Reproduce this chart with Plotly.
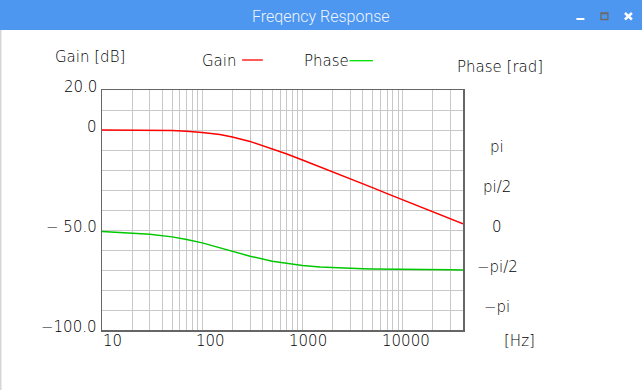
import math
import plotly.graph_objects as go

# ---------------- data ----------------
freq_hz = [10, 20, 30, 50, 70, 100, 150, 200, 300, 500, 700, 1000, 1500,
           2000, 3000, 4000, 5000, 7000, 10000, 15000, 20000, 30000, 40000]
gain_db = [0.0, -0.05, -0.1, -0.3, -0.6, -1.2, -2.3, -3.5, -5.7, -9.4, -12.0,
           -15.0, -18.4, -20.9, -24.4, -26.9, -28.8, -31.8, -34.9, -38.4,
           -40.9, -44.4, -46.9]
phase_rad = [-0.055, -0.11, -0.164, -0.27, -0.369, -0.505, -0.692, -0.835,
             -1.028, -1.224, -1.318, -1.392, -1.451, -1.481, -1.511, -1.526,
             -1.535, -1.545, -1.553, -1.559, -1.562, -1.565, -1.566]

gain_tick_vals = [20, 0, -50, -100]
gain_tick_text = ["20.0", "0", "\u2212 50.0", "\u2212100.0"]
phase_tick_vals = [math.pi, math.pi / 2, 0, -math.pi / 2, -math.pi]
phase_tick_text = ["pi", "pi/2", "0", "\u2212pi/2", "\u2212pi"]
freq_tick_vals = [10, 100, 1000, 10000]
freq_tick_text = ["10", "100", "1000", "10000"]

# ---------------- layout geometry ----------------
W, H = 642, 390
L, R, T, B = 102, 462.7, 90, 330


def px(x):
    return (x - L) / (R - L)


def py(y):
    return (B - y) / (B - T)


FONT = "DejaVu Sans"
FS = 15
GRID = "#c8c8c8"
FRAME = "#666666"

fig = go.Figure()
fig.add_trace(go.Scatter(x=freq_hz, y=gain_db, mode="lines",
                         line=dict(color="#ff0000", width=1.5),
                         showlegend=False, hoverinfo="skip"))
fig.add_trace(go.Scatter(x=freq_hz, y=phase_rad, mode="lines", yaxis="y2",
                         line=dict(color="#00c800", width=1.5),
                         showlegend=False, hoverinfo="skip"))

grid_x = [d * 10 ** e for e in range(1, 5) for d in range(1, 10)
          if d * 10 ** e <= 40000]

fig.update_layout(
    width=W, height=H, autosize=False,
    margin=dict(l=L, r=W - R, t=T, b=H - B, pad=0),
    paper_bgcolor="white", plot_bgcolor="white",
    xaxis=dict(type="log", range=[1, math.log10(40000)], tickvals=grid_x,
               showticklabels=False, ticks="", showgrid=True,
               gridcolor=GRID, gridwidth=1, zeroline=False,
               showline=True, mirror=True, linecolor=FRAME, linewidth=1.5),
    yaxis=dict(range=[-100, 20], tick0=0, dtick=10, showticklabels=False,
               ticks="", showgrid=True, gridcolor=GRID, gridwidth=1,
               zeroline=False, showline=True, mirror=True,
               linecolor=FRAME, linewidth=1.5),
    yaxis2=dict(overlaying="y", side="right",
                range=[-5 * math.pi / 4, 7 * math.pi / 4],
                showgrid=False, showticklabels=False, ticks="",
                zeroline=False, showline=False),
)

ann = []
tf = dict(family=FONT, size=FS, color="black", weight=200)

# gain tick labels
for v, t in zip(gain_tick_vals, gain_tick_text):
    ann.append(dict(xref="paper", yref="y", x=px(99), y=v, text=t,
                    xanchor="right", yanchor="middle", yshift=3,
                    showarrow=False, font=tf))
# phase tick labels
for v, t in zip(phase_tick_vals, phase_tick_text):
    ann.append(dict(xref="paper", yref="y2", x=px(497), y=v, text=t,
                    xanchor="center", yanchor="middle", yshift=3,
                    showarrow=False, font=tf))
# frequency tick labels
for v, t in zip(freq_tick_vals, freq_tick_text):
    ann.append(dict(xref="x", yref="paper", x=math.log10(v), y=py(341),
                    text=t, xanchor="center", yanchor="middle",
                    xshift=15 - 2.4 * len(t), showarrow=False, font=tf))

ann += [
    dict(xref="paper", yref="paper", x=px(519), y=py(341), text="[Hz]",
         xanchor="center", yanchor="middle", showarrow=False, font=tf),
    dict(xref="paper", yref="paper", x=px(90), y=py(57), text="Gain [dB]",
         xanchor="center", yanchor="middle", showarrow=False, font=tf),
    dict(xref="paper", yref="paper", x=px(500), y=py(66.5), text="Phase [rad]",
         xanchor="center", yanchor="middle", showarrow=False, font=tf),
    dict(xref="paper", yref="paper", x=px(219), y=py(60.5), text="Gain",
         xanchor="center", yanchor="middle", showarrow=False, font=tf),
    dict(xref="paper", yref="paper", x=px(326.3), y=py(61), text="Phase",
         xanchor="center", yanchor="middle", showarrow=False, font=tf),
    dict(xref="paper", yref="paper", x=px(321), y=py(16),
         text="Freqency Response", xanchor="center", yanchor="middle",
         showarrow=False,
         font=dict(family="Roboto", size=16, color="#eef4fd", weight=300)),
]

shapes = [
    # window title bar
    dict(type="rect", xref="paper", yref="paper", x0=px(0), x1=px(W),
         y0=py(30), y1=py(0), fillcolor="rgb(77,151,241)", line=dict(width=0)),
    # left window border
    dict(type="line", xref="paper", yref="paper", x0=px(0.8), x1=px(0.8),
         y0=py(30), y1=py(H), line=dict(color="#d6d6d6", width=1.6)),
    # minimise
    dict(type="rect", xref="paper", yref="paper", x0=px(576), x1=px(584),
         y0=py(20), y1=py(18), fillcolor="white", line=dict(width=0)),
    # maximise
    dict(type="rect", xref="paper", yref="paper", x0=px(600.5), x1=px(607.5),
         y0=py(19.5), y1=py(12.8), fillcolor="rgba(0,0,0,0)",
         line=dict(color="#6b6b6b", width=1.3)),
    dict(type="line", xref="paper", yref="paper", x0=px(600.5), x1=px(607.5),
         y0=py(13.6), y1=py(13.6), line=dict(color="#6b6b6b", width=1.5)),
    # close
    dict(type="line", xref="paper", yref="paper", x0=px(624.5), x1=px(631.5),
         y0=py(13), y1=py(19.5), line=dict(color="white", width=2.4)),
    dict(type="line", xref="paper", yref="paper", x0=px(624.5), x1=px(631.5),
         y0=py(19.5), y1=py(13), line=dict(color="white", width=2.4)),
    # legend lines
    dict(type="line", xref="paper", yref="paper", x0=px(242), x1=px(262.7),
         y0=py(60), y1=py(60), line=dict(color="#ff0000", width=1.3)),
    dict(type="line", xref="paper", yref="paper", x0=px(349.3), x1=px(372.7),
         y0=py(60.7), y1=py(60.7), line=dict(color="#00e000", width=1.3)),
]

fig.update_layout(annotations=ann, shapes=shapes)
fig.write_html(
    "out.html",
    config=dict(displayModeBar=False, staticPlot=True),
    post_script="document.body.style.margin='0';"
                "document.body.style.overflow='hidden';",
)
